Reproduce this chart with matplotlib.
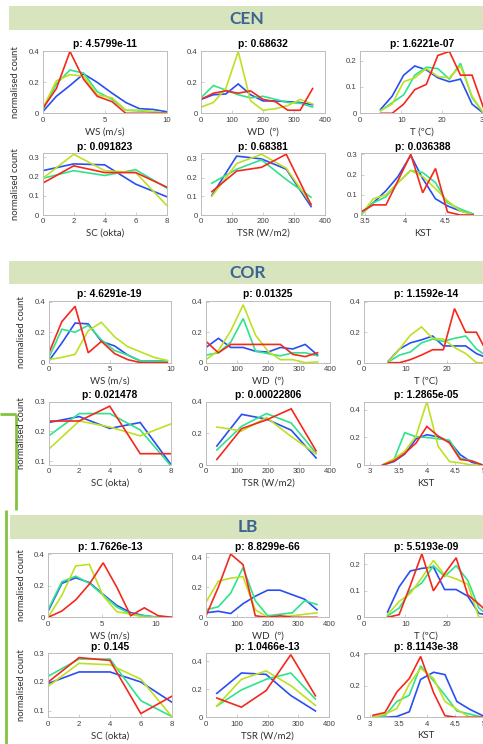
import matplotlib
matplotlib.use("Agg")
import matplotlib.pyplot as plt
from matplotlib.patches import Rectangle
from matplotlib.lines import Line2D

W, H = 483, 744

# ---------------- data ----------------
sections = ["CEN", "COR", "LB"]
series_names = ["blue", "green", "yellow", "red"]
x_labels = ["WS (m/s)", "WD  (º)", "T (ºC)", "SC (okta)", "TSR (W/m2)", "KST"]

# p-values (titles)
cen_p = ["4.5799e-11", "0.68632", "1.6221e-07", "0.091823", "0.68381", "0.036388"]
cor_p = ["4.6291e-19", "0.01325", "1.1592e-14", "0.021478", "0.00022806", "1.2865e-05"]
lb_p = ["1.7626e-13", "8.8299e-66", "5.5193e-09", "0.145", "1.0466e-13", "8.1143e-38"]

# bin positions
cen_ws_x = [0, 1.1, 2.2, 3.3, 4.4, 5.6, 6.7, 7.8, 8.9, 10]
cor_ws_x = [0, 1.08, 2.16, 3.24, 4.32, 5.4, 6.48, 7.56, 8.64, 9.72]
lb_ws_x = [0, 1.27, 2.55, 3.82, 5.1, 6.37, 7.65, 8.92, 10.2, 11.46]
wd_x = [0, 40, 80, 120, 160, 200, 240, 280, 320, 360]
cen_t_x = [5, 7.8, 10.6, 13.3, 16.1, 18.9, 21.7, 24.4, 27.2, 30]
cor_t_x = [5.9, 8.6, 11.2, 13.9, 16.6, 19.2, 21.9, 24.6, 27.2, 29.9]
lb_t_x = [5.7, 8.5, 11.2, 14.0, 16.8, 19.5, 22.3, 25.1, 27.8, 30.6]
sc_x = [0, 2, 4, 6, 8]
tsr_x = [35, 115, 195, 275, 355]
cen_kst_x = [3.447, 3.60, 3.76, 3.91, 4.07, 4.22, 4.38, 4.53, 4.69, 4.85]
cor_kst_x = [3.22, 3.42, 3.61, 3.81, 4.0, 4.2, 4.40, 4.59, 4.79, 4.98]
lb_kst_x = [3.05, 3.26, 3.47, 3.69, 3.89, 4.12, 4.32, 4.53, 4.76, 4.99]

# ---- CEN ----
cen_ws = {
    "blue":   [0.01, 0.11, 0.18, 0.255, 0.20, 0.13, 0.07, 0.03, 0.025, 0.01],
    "green":  [0.02, 0.19, 0.28, 0.26, 0.14, 0.09, 0.02, 0.015, 0.01, 0.0],
    "yellow": [0.03, 0.21, 0.25, 0.24, 0.12, 0.10, 0.02, 0.02, 0.01, 0.0],
    "red":    [0.03, 0.16, 0.40, 0.22, 0.11, 0.075, 0.0, 0.0, 0.0, 0.0],
}
cen_wd = {
    "blue":   [0.09, 0.12, 0.125, 0.19, 0.12, 0.08, 0.08, 0.075, 0.07, 0.055],
    "green":  [0.10, 0.18, 0.15, 0.12, 0.10, 0.11, 0.09, 0.07, 0.065, 0.04],
    "yellow": [0.04, 0.07, 0.16, 0.40, 0.08, 0.02, 0.03, 0.05, 0.09, 0.06],
    "red":    [0.09, 0.13, 0.145, 0.13, 0.145, 0.09, 0.075, 0.02, 0.02, 0.16],
}
cen_t = {
    "blue":   [0.015, 0.065, 0.145, 0.18, 0.165, 0.135, 0.12, 0.13, 0.035, 0.0],
    "green":  [0.01, 0.04, 0.07, 0.145, 0.175, 0.17, 0.13, 0.19, 0.06, 0.0],
    "yellow": [0.01, 0.035, 0.12, 0.135, 0.17, 0.14, 0.135, 0.18, 0.065, 0.0],
    "red":    [0.0, 0.0, 0.035, 0.09, 0.11, 0.22, 0.235, 0.145, 0.145, 0.02],
}
cen_sc = {
    "blue":   [0.23, 0.265, 0.26, 0.16, 0.095],
    "green":  [0.19, 0.23, 0.205, 0.235, 0.14],
    "yellow": [0.19, 0.315, 0.23, 0.22, 0.05],
    "red":    [0.165, 0.255, 0.22, 0.22, 0.145],
}
cen_tsr = {
    "blue":   [0.105, 0.315, 0.30, 0.245, 0.045],
    "green":  [0.17, 0.245, 0.295, 0.19, 0.095],
    "yellow": [0.10, 0.275, 0.325, 0.25, 0.06],
    "red":    [0.125, 0.235, 0.255, 0.325, 0.055],
}
cen_kst = {
    "blue":   [0.01, 0.06, 0.12, 0.19, 0.295, 0.18, 0.08, 0.045, 0.02, 0.005],
    "green":  [0.0, 0.06, 0.09, 0.16, 0.22, 0.21, 0.16, 0.06, 0.03, 0.005],
    "yellow": [0.0, 0.08, 0.10, 0.16, 0.22, 0.19, 0.13, 0.07, 0.02, 0.0],
    "red":    [0.015, 0.05, 0.05, 0.17, 0.30, 0.11, 0.23, 0.015, 0.0, 0.0],
}

# ---- COR ----
cor_ws = {
    "blue":   [0.01, 0.13, 0.26, 0.255, 0.14, 0.11, 0.05, 0.01, 0.01, 0.01],
    "green":  [0.03, 0.22, 0.20, 0.245, 0.15, 0.08, 0.05, 0.01, 0.01, 0.01],
    "yellow": [0.02, 0.035, 0.055, 0.21, 0.265, 0.17, 0.105, 0.07, 0.035, 0.015],
    "red":    [0.06, 0.27, 0.37, 0.065, 0.14, 0.06, 0.02, 0.0, 0.0, 0.0],
}
cor_wd = {
    "blue":   [0.10, 0.16, 0.10, 0.10, 0.075, 0.07, 0.10, 0.09, 0.12, 0.05],
    "green":  [0.05, 0.065, 0.135, 0.29, 0.075, 0.06, 0.045, 0.065, 0.065, 0.045],
    "yellow": [0.02, 0.08, 0.21, 0.38, 0.18, 0.075, 0.02, 0.02, 0.0, 0.005],
    "red":    [0.14, 0.065, 0.12, 0.12, 0.12, 0.12, 0.12, 0.055, 0.04, 0.065],
}
cor_t = {
    "blue":   [0.01, 0.09, 0.13, 0.15, 0.175, 0.11, 0.11, 0.11, 0.06, 0.03],
    "green":  [0.005, 0.05, 0.07, 0.13, 0.155, 0.14, 0.16, 0.175, 0.09, 0.04],
    "yellow": [0.005, 0.09, 0.18, 0.235, 0.16, 0.155, 0.10, 0.06, 0.0, 0.0],
    "red":    [0.0, 0.0, 0.02, 0.05, 0.085, 0.085, 0.355, 0.20, 0.20, 0.06],
}
cor_sc = {
    "blue":   [0.23, 0.25, 0.21, 0.23, 0.09],
    "green":  [0.185, 0.26, 0.26, 0.205, 0.085],
    "yellow": [0.14, 0.235, 0.215, 0.185, 0.225],
    "red":    [0.235, 0.235, 0.285, 0.125, 0.125],
}
cor_tsr = {
    "blue":   [0.12, 0.32, 0.29, 0.22, 0.045],
    "green":  [0.095, 0.245, 0.325, 0.265, 0.075],
    "yellow": [0.24, 0.215, 0.30, 0.18, 0.07],
    "red":    [0.035, 0.23, 0.285, 0.355, 0.09],
}
cor_kst = {
    "blue":   [0.0, 0.025, 0.08, 0.19, 0.22, 0.205, 0.17, 0.075, 0.02, 0.0],
    "green":  [0.0, 0.04, 0.235, 0.205, 0.20, 0.19, 0.18, 0.05, 0.03, 0.0],
    "yellow": [0.0, 0.045, 0.10, 0.21, 0.46, 0.135, 0.025, 0.015, 0.0, 0.0],
    "red":    [0.0, 0.03, 0.085, 0.16, 0.28, 0.21, 0.16, 0.04, 0.03, 0.0],
}

# ---- LB ----
lb_ws = {
    "blue":   [0.04, 0.215, 0.25, 0.22, 0.145, 0.075, 0.03, 0.01, 0.0, 0.0],
    "green":  [0.05, 0.225, 0.26, 0.215, 0.14, 0.065, 0.02, 0.01, 0.0, 0.0],
    "yellow": [0.0, 0.14, 0.325, 0.335, 0.135, 0.035, 0.02, 0.0, 0.0, 0.0],
    "red":    [0.0, 0.04, 0.11, 0.21, 0.345, 0.19, 0.01, 0.06, 0.01, 0.0],
}
lb_wd = {
    "blue":   [0.03, 0.04, 0.025, 0.09, 0.14, 0.18, 0.18, 0.15, 0.12, 0.05],
    "green":  [0.05, 0.07, 0.16, 0.33, 0.11, 0.01, 0.02, 0.03, 0.11, 0.085],
    "yellow": [0.10, 0.24, 0.26, 0.27, 0.05, 0.0, 0.005, 0.01, 0.02, 0.03],
    "red":    [0.01, 0.20, 0.42, 0.35, 0.01, 0.0, 0.01, 0.0, 0.0, 0.0],
}
lb_t = {
    "blue":   [0.02, 0.115, 0.175, 0.185, 0.19, 0.105, 0.105, 0.08, 0.015, 0.005],
    "green":  [0.005, 0.035, 0.10, 0.13, 0.195, 0.155, 0.195, 0.14, 0.035, 0.0],
    "yellow": [0.01, 0.06, 0.09, 0.15, 0.215, 0.16, 0.145, 0.125, 0.0, 0.0],
    "red":    [0.0, 0.01, 0.12, 0.24, 0.10, 0.165, 0.225, 0.085, 0.05, 0.01],
}
lb_sc = {
    "blue":   [0.195, 0.235, 0.235, 0.20, 0.13],
    "green":  [0.22, 0.28, 0.28, 0.135, 0.08],
    "yellow": [0.185, 0.265, 0.26, 0.21, 0.08],
    "red":    [0.20, 0.285, 0.275, 0.09, 0.15],
}
lb_tsr = {
    "blue":   [0.17, 0.315, 0.305, 0.155, 0.045],
    "green":  [0.08, 0.195, 0.27, 0.315, 0.13],
    "yellow": [0.08, 0.27, 0.33, 0.225, 0.085],
    "red":    [0.137, 0.072, 0.19, 0.445, 0.153],
}
lb_kst = {
    "blue":   [0.0, 0.0, 0.005, 0.035, 0.24, 0.285, 0.27, 0.10, 0.05, 0.01],
    "green":  [0.005, 0.01, 0.10, 0.14, 0.325, 0.23, 0.14, 0.04, 0.02, 0.0],
    "yellow": [0.0, 0.02, 0.055, 0.21, 0.31, 0.245, 0.10, 0.05, 0.0, 0.0],
    "red":    [0.013, 0.03, 0.16, 0.245, 0.385, 0.155, 0.01, 0.0, 0.0, 0.0],
}

# ---------------- style ----------------
colors = {"blue": "#2a4ef2", "green": "#2fe38c", "yellow": "#bfe022", "red": "#f4281c"}
SPINE = "#bcbcbc"
TICKC = "#404040"
HEAD_BG = "#d7e4bd"
HEAD_FG = "#3b6590"
BRACKET = "#84c341"

TICK_FONT = "Liberation Sans"
TITLE_FONT = "Liberation Sans"
LABEL_FONT = "Lato"

fig = plt.figure(figsize=(W / 100, H / 100), dpi=100)
fig.patch.set_facecolor("white")


def fx(x):
    return x / W


def fy(y):
    return 1 - y / H


def add_ax(l, t, r, b):
    return fig.add_axes([fx(l), fy(b), (r - l) / W, (b - t) / H])


def fmt(v):
    s = ("%.2f" % v).rstrip("0").rstrip(".")
    return s if s != "-0" else "0"


def panel(l, t, r, b, xs, data, xlim, ylim, xticks, yticks, ptxt, xlabel):
    ax = add_ax(l, t, r, b)
    for name in series_names:
        ax.plot(xs, data[name], color=colors[name], lw=1.2, solid_joinstyle="miter", clip_on=True)
    ax.set_xlim(*xlim)
    ax.set_ylim(*ylim)
    ax.set_xticks(xticks)
    ax.set_yticks(yticks)
    ax.set_xticklabels([fmt(v) for v in xticks])
    ax.set_yticklabels([fmt(v) for v in yticks])
    for s in ax.spines.values():
        s.set_color(SPINE)
        s.set_linewidth(0.7)
    ax.tick_params(direction="in", length=2, width=0.5, color=SPINE, labelcolor=TICKC,
                   labelsize=5.6, pad=2.5)
    for lab in ax.get_xticklabels() + ax.get_yticklabels():
        lab.set_fontfamily(TICK_FONT)
    cx = (l + r) / 2
    fig.text(fx(cx), fy(t - 6.8), "p: " + ptxt, ha="center", va="center",
             fontsize=7.4, fontweight="bold", family=TITLE_FONT, color="black")
    fig.text(fx(cx), fy(b + 18.5), xlabel, ha="center", va="center",
             fontsize=7, family=LABEL_FONT, color="#303030")
    return ax


def header(y0, y1, x0, xc, text):
    fig.patches.append(Rectangle((fx(x0), fy(y1)), fx(W + 2) - fx(x0), (y1 - y0) / H,
                                 transform=fig.transFigure, facecolor=HEAD_BG,
                                 edgecolor="none", zorder=0))
    fig.text(fx(xc), fy((y0 + y1) / 2 + 0.5), text, ha="center", va="center",
             fontsize=12.5, fontweight="bold", family=LABEL_FONT, color=HEAD_FG)


def ylabel(x, t, b):
    fig.text(fx(x), fy((t + b) / 2), "normalised count", rotation=90, ha="center",
             va="center", fontsize=6.8, family=LABEL_FONT, color="#303030")


# ---------------- CEN ----------------
header(6, 30, 9, 247, sections[0])
r1 = (50.7, 113.3)
r2 = (153.3, 215)
cols = [(42.7, 166.7), (201, 325), (360, 484)]
panel(cols[0][0], r1[0], cols[0][1], r1[1], cen_ws_x, cen_ws, (0, 10), (0, 0.405),
      [0, 5, 10], [0, 0.2, 0.4], cen_p[0], x_labels[0])
panel(cols[1][0], r1[0], cols[1][1], r1[1], wd_x, cen_wd, (0, 400), (0, 0.405),
      [0, 100, 200, 300, 400], [0, 0.2, 0.4], cen_p[1], x_labels[1])
panel(cols[2][0], r1[0], cols[2][1], r1[1], cen_t_x, cen_t, (0, 30.1), (0, 0.238),
      [0, 10, 20, 30], [0, 0.1, 0.2], cen_p[2], x_labels[2])
panel(cols[0][0], r2[0], cols[0][1], r2[1], sc_x, cen_sc, (0, 8), (0, 0.32),
      [0, 2, 4, 6, 8], [0, 0.1, 0.2, 0.3], cen_p[3], x_labels[3])
panel(cols[1][0], r2[0], cols[1][1], r2[1], tsr_x, cen_tsr, (0, 400), (0, 0.33),
      [0, 100, 200, 300, 400], [0, 0.1, 0.2, 0.3], cen_p[4], x_labels[4])
panel(361, r2[0], 485, r2[1], cen_kst_x, cen_kst, (3.447, 4.97), (0, 0.305),
      [3.5, 4, 4.5, 5], [0, 0.1, 0.2, 0.3], cen_p[5], x_labels[5])
ylabel(15.5, *r1)
ylabel(15.5, *r2)

# ---------------- COR ----------------
header(261, 284.5, 9, 248, sections[1])
r1 = (301, 362.7)
r2 = (401.7, 465)
cols = [(48.7, 170.7), (206, 330), (364, 488)]
panel(cols[0][0], r1[0], cols[0][1], r1[1], cor_ws_x, cor_ws, (0, 10), (0, 0.405),
      [0, 5, 10], [0, 0.2, 0.4], cor_p[0], x_labels[0])
panel(cols[1][0], r1[0], cols[1][1], r1[1], wd_x, cor_wd, (0, 400), (0, 0.405),
      [0, 100, 200, 300, 400], [0, 0.2, 0.4], cor_p[1], x_labels[1])
panel(cols[2][0], r1[0], cols[2][1], r1[1], cor_t_x, cor_t, (0, 30), (0, 0.405),
      [0, 10, 20, 30], [0, 0.2, 0.4], cor_p[2], x_labels[2])
panel(cols[0][0], r2[0], cols[0][1], r2[1], sc_x, cor_sc, (0, 8), (0.087, 0.3),
      [0, 2, 4, 6, 8], [0.1, 0.2, 0.3], cor_p[3], x_labels[3])
panel(cols[1][0], r2[0], cols[1][1], r2[1], tsr_x, cor_tsr, (0, 400), (0, 0.4),
      [0, 100, 200, 300, 400], [0, 0.2, 0.4], cor_p[4], x_labels[4])
panel(cols[2][0], r2[0], cols[2][1], r2[1], cor_kst_x, cor_kst, (2.89, 5.08), (0, 0.46),
      [3, 3.5, 4, 4.5, 5], [0, 0.2, 0.4], cor_p[5], x_labels[5])
ylabel(21.5, *r1)
ylabel(22, *r2)

# ---------------- LB ----------------
header(515, 538.5, 10, 248, sections[2])
r1 = (553.3, 617.3)
r2 = (653.3, 717.3)
cols = [(48.2, 171.7), (206, 329.3), (364, 488)]
panel(cols[0][0], r1[0], cols[0][1], r1[1], lb_ws_x, lb_ws, (0, 11.46), (0, 0.405),
      [0, 5, 10], [0, 0.2, 0.4], lb_p[0], x_labels[0])
panel(cols[1][0], r1[0], cols[1][1], r1[1], wd_x, lb_wd, (0, 400), (0, 0.425),
      [0, 100, 200, 300, 400], [0, 0.2, 0.4], lb_p[1], x_labels[1])
panel(cols[2][0], r1[0], cols[2][1], r1[1], lb_t_x, lb_t, (0, 30), (0, 0.242),
      [0, 10, 20, 30], [0, 0.1, 0.2], lb_p[2], x_labels[2])
panel(cols[0][0], r2[0], cols[0][1], r2[1], sc_x, lb_sc, (0, 8), (0.077, 0.3),
      [0, 2, 4, 6, 8], [0.1, 0.2, 0.3], lb_p[3], x_labels[3])
panel(cols[1][0], r2[0], cols[1][1], r2[1], tsr_x, lb_tsr, (0, 400), (0, 0.455),
      [0, 100, 200, 300, 400], [0, 0.2, 0.4], lb_p[4], x_labels[4])
panel(cols[2][0], r2[0], cols[2][1], r2[1], lb_kst_x, lb_kst, (2.89, 5.08), (0, 0.405),
      [3, 3.5, 4, 4.5, 5], [0, 0.2, 0.4], lb_p[5], x_labels[5])
ylabel(22, *r1)
ylabel(22, *r2)

# ---------------- green bracket on the left ----------------
for xs_, ys_ in [((0, 15.8), (414, 414)), ((15.5, 15.5), (414, 510)), ((5.5, 5.5), (510, 744))]:
    fig.add_artist(Line2D([fx(v) for v in xs_], [fy(v) for v in ys_],
                          transform=fig.transFigure, color=BRACKET, lw=2.0,
                          solid_capstyle="butt"))

fig.savefig("out.png", dpi=100, facecolor="white")
